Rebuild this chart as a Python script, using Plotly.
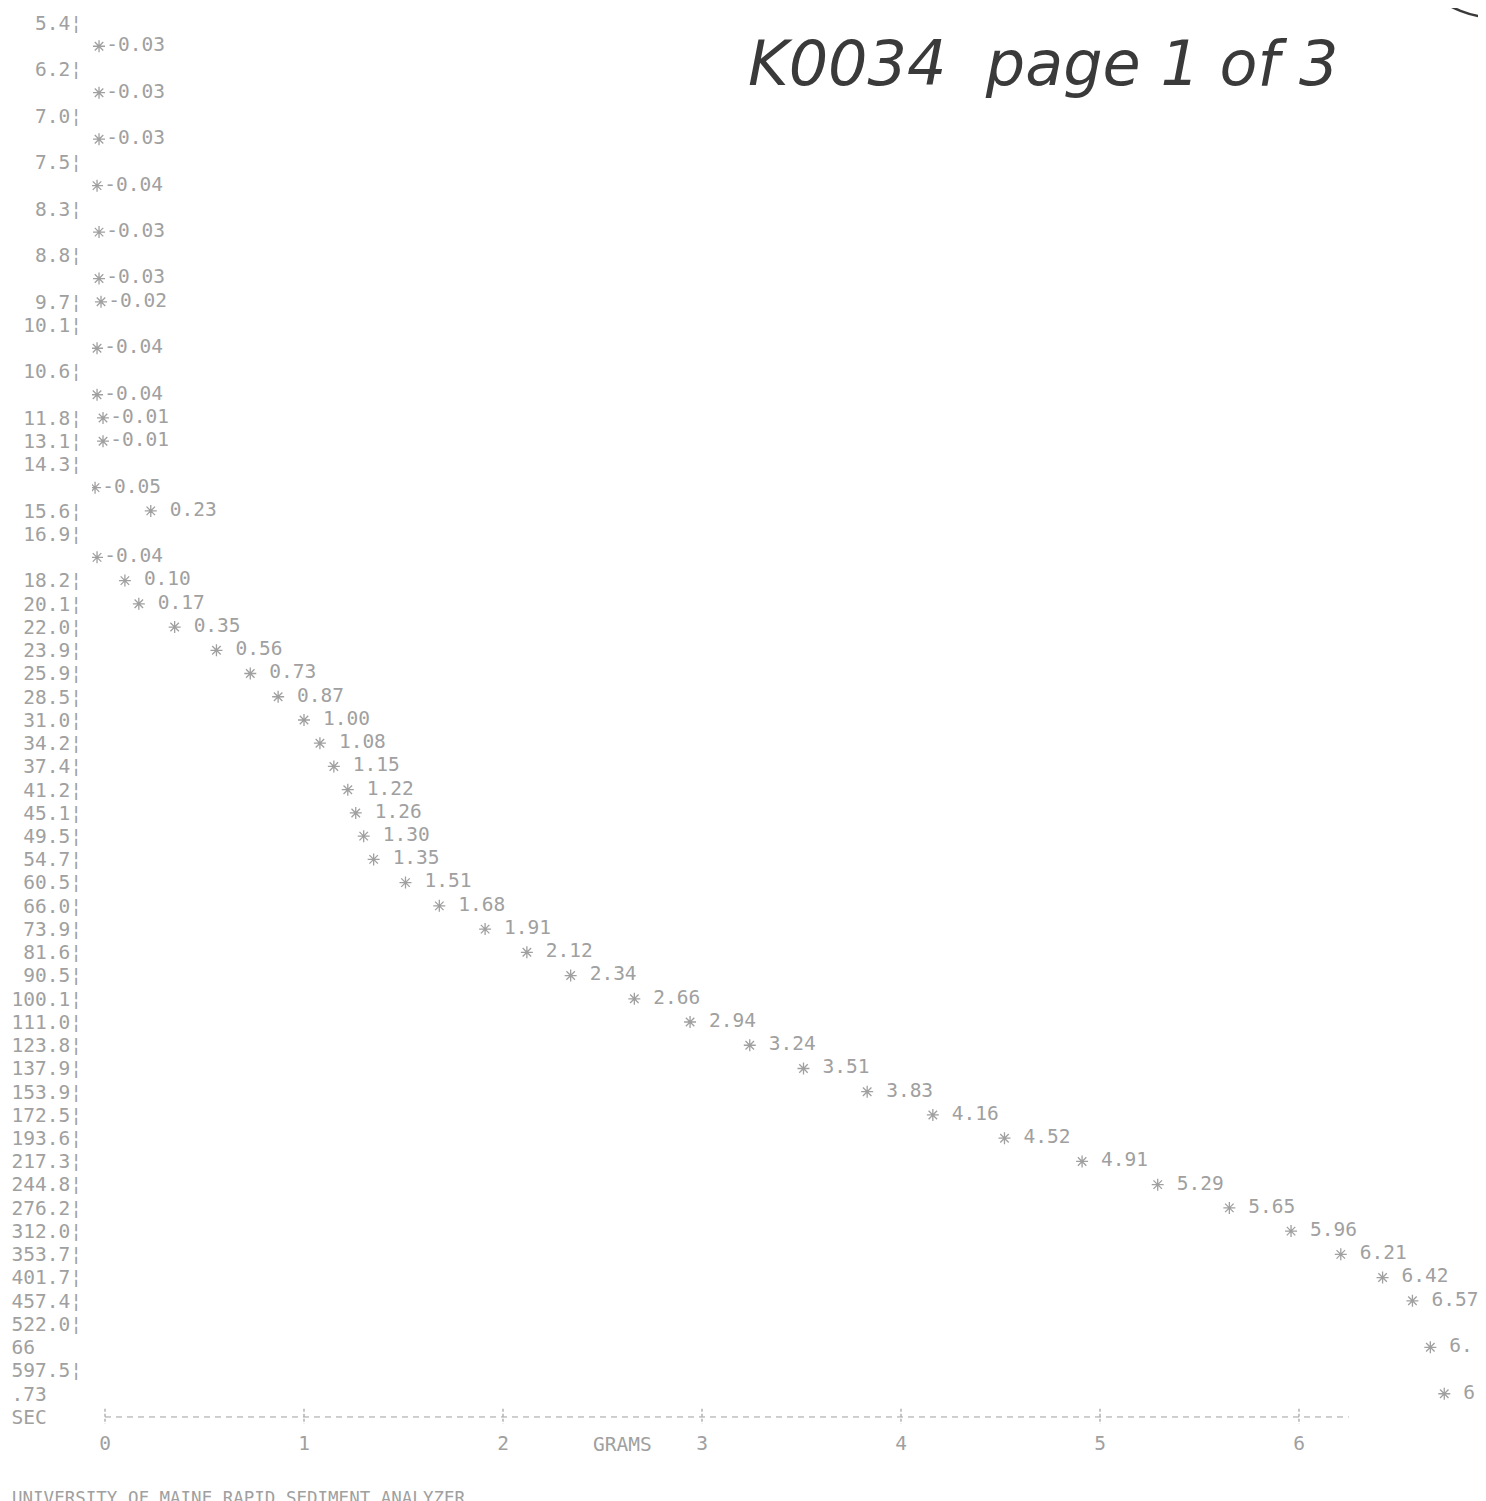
import math
import plotly.graph_objects as go

# printed rows: elapsed time (s) and balance reading (g)
seconds = [5.4, 6.2, 7.0, 7.5, 8.3, 8.8, 9.7, 10.1, 10.6, 11.8, 13.1, 14.3, 15.6, 16.9,
           18.2, 20.1, 22.0, 23.9, 25.9, 28.5, 31.0, 34.2, 37.4, 41.2, 45.1, 49.5,
           54.7, 60.5, 66.0, 73.9, 81.6, 90.5, 100.1, 111.0, 123.8, 137.9, 153.9,
           172.5, 193.6, 217.3, 244.8, 276.2, 312.0, 353.7, 401.7, 457.4, 522.0, 597.5]
grams = [-0.03, -0.03, -0.03, -0.04, -0.03, -0.03, -0.02, -0.04, -0.04, -0.01, -0.01, -0.05, 0.23, -0.04,
         0.10, 0.17, 0.35, 0.56, 0.73, 0.87, 1.00, 1.08, 1.15, 1.22, 1.26, 1.30,
         1.35, 1.51, 1.68, 1.91, 2.12, 2.34, 2.66, 2.94, 3.24, 3.51, 3.83,
         4.16, 4.52, 4.91, 5.29, 5.65, 5.96, 6.21, 6.42, 6.57, 6.66, 6.73]
gram_ticks = [0, 1, 2, 3, 4, 5, 6]

INK = "#a0a0a0"
MONO = "DejaVu Sans Mono"
FS = 19.5
NBSP = "\u00a0"
WRAP_BELOW = -0.025   # printer pushed these asterisks to the next line
LINE_END = 6.925      # last printable column (g)
CHAR_G = 0.0583       # width of one printer column (g)
AXIS_END = 6.25

W, H = 1486, 1501
L, T, B = 84, 0, 84
PX0, PX_PER_G = 97, 199.0
LINE0, PX_PER_LINE = 15, 23.233

# lay the listing out line by line like the line printer did
line = 0
ytick_vals, ytick_text = [], []
pt_y, pt_text = [], []
for s, g in zip(seconds, grams):
    ytick_vals.append(line)
    ytick_text.append(f"{s:.1f}¦")
    label = "*" + f"{g:5.2f}"
    fit = math.floor((LINE_END - g) / CHAR_G)
    if g < WRAP_BELOW:
        pt_y.append(line + 1)
        line += 2
    elif fit < len(label):
        pt_y.append(line + 1)
        ytick_vals.append(line + 1)
        ytick_text.append(label[fit:].ljust(6, NBSP))
        label = label[:fit]
        line += 2
    else:
        pt_y.append(line)
        line += 1
    # the asterisk is the marker, the rest of the printed field is its text
    pt_text.append(label[1:].replace(" ", NBSP))
sec_line = line
ytick_vals.append(sec_line)
ytick_text.append("SEC".ljust(6, NBSP))

plot_w, plot_h = W - L, H - T - B
x_lo = (L - PX0) / PX_PER_G
x_hi = (W - PX0) / PX_PER_G
y_top = (T - LINE0) / PX_PER_LINE
y_bot = y_top + plot_h / PX_PER_LINE


def paper_x(px):
    return (px - L) / plot_w


def paper_y(py):
    return 1 - (py - T) / plot_h


fig = go.Figure()
fig.add_trace(go.Scatter(
    x=grams, y=pt_y, mode="markers+text", text=pt_text, textposition="middle right",
    marker=dict(symbol="asterisk-open", size=10, color=INK, line=dict(color=INK, width=1.3)),
    textfont=dict(family=MONO, size=FS, color=INK), hoverinfo="skip", showlegend=False,
))

# printed x axis:  |-------|-------|...
shapes = [dict(type="line", xref="x", yref="y", x0=0, x1=AXIS_END, y0=sec_line, y1=sec_line,
               line=dict(color=INK, width=1, dash="6px,5px"))]
for v in gram_ticks:
    shapes.append(dict(type="line", xref="x", yref="y", x0=v, x1=v,
                       y0=sec_line - 0.35, y1=sec_line + 0.3,
                       line=dict(color=INK, width=1.2, dash="3px,2px")))
# pen circle at the corner of the sheet
shapes.append(dict(type="circle", xref="paper", yref="paper",
                   x0=paper_x(1388), x1=paper_x(1592), y0=paper_y(10), y1=paper_y(-194),
                   line=dict(color="#3a3a3a", width=2.5)))

fig.update_layout(
    width=W, height=H, template="none",
    paper_bgcolor="white", plot_bgcolor="white",
    margin=dict(l=L, r=0, t=T, b=B),
    showlegend=False,
    shapes=shapes,
    xaxis=dict(range=[x_lo, x_hi], tickvals=gram_ticks, ticktext=[str(v) for v in gram_ticks],
               showgrid=False, zeroline=False, showline=False, ticks="", automargin=False,
               ticklabelstandoff=4, tickfont=dict(family=MONO, size=FS, color=INK)),
    yaxis=dict(range=[y_bot, y_top], tickvals=ytick_vals, ticktext=ytick_text,
               showgrid=False, zeroline=False, showline=False, ticks="", automargin=False,
               ticklabelstandoff=9, tickfont=dict(family=MONO, size=FS, color=INK)),
    annotations=[
        dict(text="GRAMS", xref="x", yref="paper", x=2.6, y=paper_y(1436), showarrow=False,
             xanchor="center", yanchor="middle",
             font=dict(family=MONO, size=FS, color=INK)),
        dict(text="UNIVERSITY OF MAINE RAPID SEDIMENT ANALYZER", xref="paper", yref="paper",
             x=paper_x(2), y=paper_y(1478), xanchor="left", yanchor="top", showarrow=False,
             font=dict(family=MONO, size=17.5, color=INK)),
        dict(text="K0034  page 1 of 3", xref="paper", yref="paper",
             x=paper_x(1035), y=paper_y(55), showarrow=False,
             xanchor="center", yanchor="middle",
             font=dict(family="DejaVu Sans", size=62, color="#3a3a3a", style="italic")),
    ],
)

fig.write_html("out.html")
